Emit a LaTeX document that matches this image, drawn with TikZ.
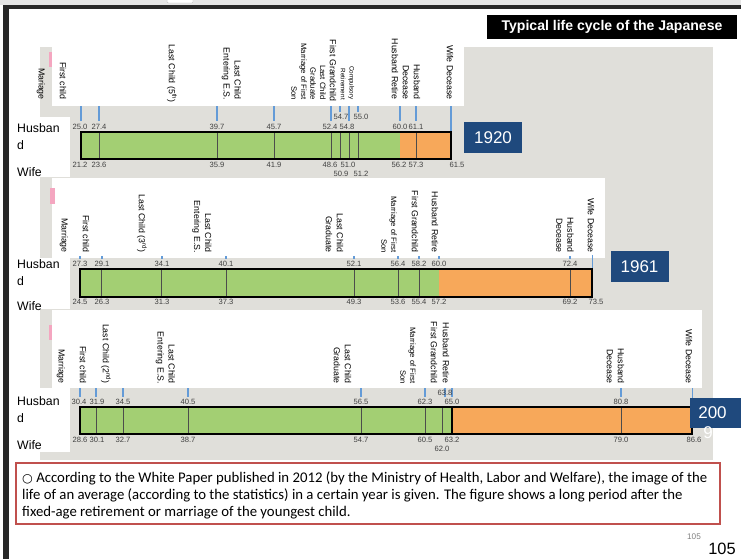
\documentclass[tikz,border=0pt]{standalone}
\usepackage{fontspec}
\setmainfont{Liberation Sans}
\newfontfamily\notefont{Carlito}
\newfontfamily\symfont{DejaVu Sans}

\definecolor{panelgray}{RGB}{224,223,218}
\definecolor{lifegreen}{RGB}{163,207,115}
\definecolor{lifeorange}{RGB}{247,168,90}
\definecolor{yearblue}{RGB}{31,73,125}
\definecolor{tickblue}{RGB}{100,155,215}
\definecolor{markpink}{RGB}{244,166,192}
\definecolor{notered}{RGB}{192,80,77}
\definecolor{framedark}{RGB}{40,40,40}
\definecolor{numgray}{RGB}{64,64,64}

\tikzset{
  event/.style={rotate=-90,anchor=east,inner sep=0pt,align=right,
    font=\fontsize{7.5}{9.4}\selectfont},
  smallevent/.style={event,font=\fontsize{6.6}{8.5}\selectfont},
  tinyevent/.style={event,font=\fontsize{5.4}{7.6}\selectfont},
  age/.style={inner sep=0pt,text=numgray,font=\fontsize{6.5}{7}\selectfont},
  tick/.style={tickblue,line width=1.1pt},
  divider/.style={black!70,line width=0.6pt},
  bar/.style={black,line width=1.4pt},
  yearbox/.style={fill=yearblue,text=white,inner sep=0pt,
    minimum width=1.74cm,minimum height=0.93cm,font=\fontsize{14.5}{16}\selectfont},
  who/.style={anchor=north west,inner sep=0pt,align=left,
    font=\fontsize{10.5}{15}\selectfont},
  titlebox/.style={fill=black,text=white,inner sep=0pt,minimum width=7.5cm,
    minimum height=0.72cm,font=\bfseries\fontsize{12}{13}\selectfont},
}

\begin{document}
\begin{tikzpicture}[x=0.03cm,y=-0.03cm]
  \useasboundingbox (0,0) rectangle (741,559);

  % frame of the slide
  \fill[gray!20] (0,0) rectangle (741,5);
  \draw[gray!50,fill=white,rounded corners=1pt] (167,-1) rectangle (193,3);
  \fill[framedark] (3,5) rectangle (741,9);
  \fill[framedark] (3,5) rectangle (9,559);

  \node[titlebox] (title) at (612,27) {Typical life cycle of the Japanese};

  % gray panel and white cut-outs
  \fill[panelgray] (40,47) rectangle (713,460);
  \fill[white] (52,40) rectangle (464,106);
  \fill[white] (9,117) rectangle (70,177);
  \fill[white] (52,178) rectangle (605,258);
  \fill[white] (9,258) rectangle (70,309);
  \fill[white] (52,310) rectangle (702,388);
  \fill[white] (9,388) rectangle (70,452);
  \fill[markpink] (49,52) rectangle (52,67);
  \fill[markpink] (50,188) rectangle (55,204);
  \fill[markpink] (49,325) rectangle (52,340);

  % ---------- 1920 ----------
  \node[event] (m1) at (41,100) {Mariage};
  \node[event] (fc1) at (63,100) {First child};
  \node[event] (lc1) at (172,103) {Last Child (5\textsuperscript{th})};
  \node[event] (es1) at (231.5,100) {Last Child\\Entering E.S.};
  \node[smallevent] (ms1) at (299,100) {Marriage of First\\Son};
  \node[smallevent] (gr1) at (318,100) {Last Child\\Graduate};
  \node[event] (gc1) at (333,102) {First Grandchild};
  \node[tinyevent] (cr1) at (347.5,100) {Compulsory\\Retirement};
  \node[event] (hr1) at (395,100) {Husband Retire};
  \node[event] (hd1) at (411.5,100) {Husband\\Decease};
  \node[event] (wd1) at (450,100) {Wife Decease};

  \foreach \x in {81,99,217,274,331,349,400,416}
    \draw[tick] (\x,106) -- (\x,121);
  \foreach \x in {340,358}
    \draw[tick] (\x,106) -- (\x,112);
  \draw[tick] (451,106) -- (451,132);

  \fill[lifegreen] (81,132) rectangle (400,159);
  \fill[lifeorange] (400,132) rectangle (451,159);
  \foreach \x in {99,217,274,331,340,349,358,416}
    \draw[divider] (\x,132) -- (\x,159);
  \draw[bar] (81,132) rectangle (451,159);

  \foreach \x/\a in {80/25.0,99/27.4,217/39.7,274/45.7,330/52.4,347/54.8,400/60.0,416/61.1}
    \node[age] (h1-\x) at (\x,127) {\a};
  \foreach \x/\a in {341/54.7,361/55.0}
    \node[age] (h1-\x) at (\x,117) {\a};
  \foreach \x/\a in {80/21.2,99/23.6,217/35.9,274/41.9,330/48.6,348/51.0,399/56.2,416/57.3,457/61.5}
    \node[age] (w1-\x) at (\x,165) {\a};
  \foreach \x/\a in {341/50.9,361/51.2}
    \node[age] (w1-\x) at (\x,174) {\a};

  \node[who] (hb1) at (17,123) {Husban\\d};
  \node[who] (wf1) at (17,167) {Wife};
  \node[yearbox] (y1920) at (493,137.5) {1920};

  % ---------- 1961 ----------
  \node[event] (m2) at (64,253) {Marriage};
  \node[event] (fc2) at (86,253) {First child};
  \node[event] (lc2) at (142,253) {Last Child (3\textsuperscript{rd})};
  \node[event] (es2) at (202,253) {Last Child\\Entering E.S.};
  \node[event] (gr2) at (334.5,253) {Last Child\\Graduate};
  \node[smallevent] (ms2) at (389,253) {Marriage of First\\Son};
  \node[event] (gc2) at (415,253) {First Grandchild};
  \node[event] (hr2) at (435,253) {Husband Retire};
  \node[event] (hd2) at (565,253) {Husband\\Decease};
  \node[event] (wd2) at (591,253) {Wife Decease};

  \foreach \x in {80,102,162,226,354,398,419,439,570}
    \draw[tick] (\x,256) -- (\x,259);
  \draw[tick,line width=0.6pt] (592,255) -- (592,269);

  \fill[lifegreen] (80,269) rectangle (439,297);
  \fill[lifeorange] (439,269) rectangle (592,297);
  \foreach \x in {101,161,226,354,398,419,570}
    \draw[divider] (\x,269) -- (\x,297);
  \draw[bar] (80,269) rectangle (592,297);

  \foreach \x/\a in {80/27.3,102/29.1,162/34.1,226/40.1,354/52.1,398/56.4,419/58.2,439/60.0,570/72.4}
    \node[age] (h2-\x) at (\x,264) {\a};
  \foreach \x/\a in {80/24.5,102/26.3,162/31.3,226/37.3,354/49.3,398/53.6,419/55.4,439/57.2,570/69.2,596/73.5}
    \node[age] (w2-\x) at (\x,302) {\a};

  \node[who] (hb2) at (17,259) {Husban\\d};
  \node[who] (wf2) at (17,301) {Wife};
  \node[yearbox] (y1961) at (639.5,266.5) {1961};

  % ---------- 2009 ----------
  \node[event] (m3) at (61,384) {Marriage};
  \node[event] (fc3) at (83,384) {First child};
  \node[event] (lc3) at (106,384) {Last Child (2\textsuperscript{nd})};
  \node[event] (es3) at (165.5,384) {Last Child\\Entering E.S.};
  \node[event] (gr3) at (342.5,384) {Last Child\\Graduate};
  \node[smallevent] (ms3) at (408,384) {Marriage of First\\Son};
  \node[event] (gc3) at (434,384) {First Grandchild};
  \node[event] (hr3) at (446,384) {Husband Retire};
  \node[event] (hd3) at (615.5,384) {Husband\\Decease};
  \node[event] (wd3) at (689,384) {Wife Decease};

  \foreach \x in {80,96,123,188,361,425,445,452,621}
    \draw[tick] (\x,388) -- (\x,397);
  \draw[tick,line width=0.6pt] (692,388) -- (692,407);

  \fill[lifegreen] (80,407) rectangle (452,434);
  \fill[lifeorange] (452,407) rectangle (692,434);
  \foreach \x in {96,123,188,361,425,442,621}
    \draw[divider] (\x,407) -- (\x,434);
  \draw[bar] (452,407) -- (452,434);
  \draw[bar] (80,407) rectangle (692,434);

  \foreach \x/\a in {79/30.4,97/31.9,123/34.5,188/40.5,361/56.5,425/62.3,452/65.0,621/80.8}
    \node[age] (h3-\x) at (\x,402) {\a};
  \node[age] (h3-445) at (445,393) {63.8};
  \foreach \x/\a in {80/28.6,97/30.1,123/32.7,188/38.7,361/54.7,425/60.5,452/63.2,621/79.0,694/86.6}
    \node[age] (w3-\x) at (\x,440) {\a};
  \node[age] (w3-442) at (442,449) {62.0};

  \node[who] (hb3) at (17,396) {Husban\\d};
  \node[who] (wf3) at (17,440) {Wife};
  \fill[yearblue] (690,398) rectangle (745,428);
  \node[text=white,inner sep=0pt,font=\fontsize{14.5}{16}\selectfont] (y2009) at (712.5,413) {200};
  \node[text=white,inner sep=0pt,font=\fontsize{14.5}{16}\selectfont] (y2009b) at (708,433) {9};

  % note
  \draw[notered,line width=1.2pt] (16,463) rectangle (720,524);
  \node[anchor=north west,inner sep=0pt,align=left,font=\notefont\fontsize{12.6}{14.5}\selectfont] (note) at (22,471)
    {{\symfont\fontsize{10.5}{10}\selectfont ○} According to the White Paper published in 2012 (by the Ministry of Health, Labor and Welfare), the image of the\\
     life of an average (according to the statistics) in a certain year is given. The figure shows a long period after the\\
     fixed-age retirement or marriage of the youngest child.};

  \node[text=gray,inner sep=0pt,font=\fontsize{7}{8}\selectfont] (pg1) at (694,537) {105};
  \node[inner sep=0pt,font=\fontsize{14}{15}\selectfont] (pg2) at (722,549) {105};
\end{tikzpicture}
\end{document}
